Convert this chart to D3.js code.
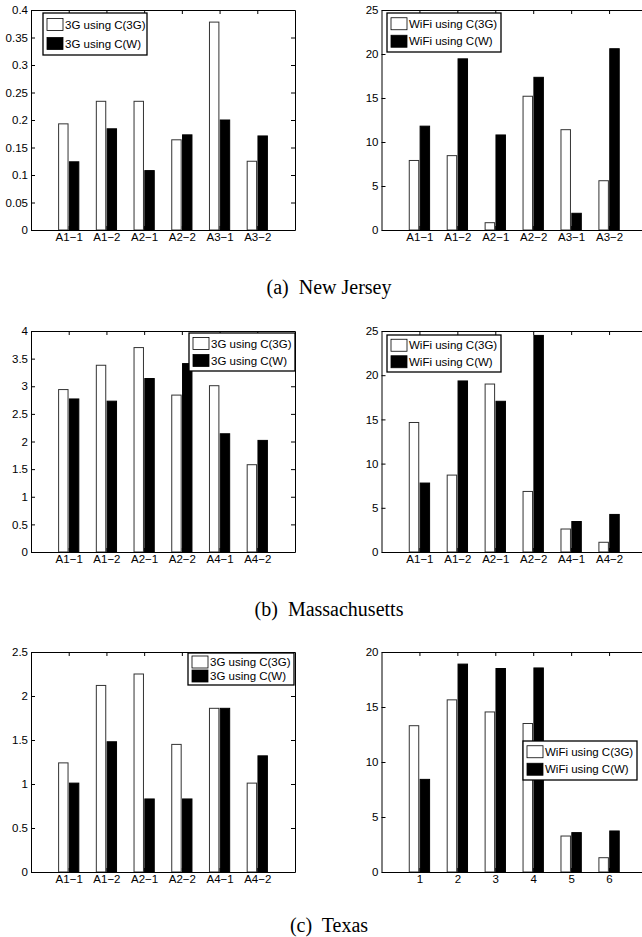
<!DOCTYPE html>
<html>
<head>
<meta charset="utf-8">
<script src="https://cdn.jsdelivr.net/npm/d3@7"></script>
<style>
body { margin: 0; background: #fff; }
svg { display: block; }
.axis text { font-family: "Liberation Sans", Arial, sans-serif; font-size: 11.5px; fill: #000; }
.axis path, .axis line { stroke: #000; stroke-width: 1; }
.legend text { font-family: "Liberation Sans", Arial, sans-serif; font-size: 11.5px; fill: #000; }
.caption { font-family: "Liberation Serif", "Times New Roman", serif; font-size: 20px; white-space: pre; }
</style>
</head>
<body>
<div id="viewportContainer"></div>
<script>

/* --- データセット --- */
const catsNJ = ["A1−1", "A1−2", "A2−1", "A2−2", "A3−1", "A3−2"];
const catsMA = ["A1−1", "A1−2", "A2−1", "A2−2", "A4−1", "A4−2"];
const catsTX3g = ["A1−1", "A1−2", "A2−1", "A2−2", "A4−1", "A4−2"];
const catsTXWifi = ["1", "2", "3", "4", "5", "6"];

// (a) New Jersey
const nj3gUsing3g = [0.193, 0.234, 0.234, 0.164, 0.378, 0.125];
const nj3gUsingW  = [0.124, 0.184, 0.108, 0.173, 0.200, 0.171];
const njWifiUsing3g = [7.9, 8.45, 0.83, 15.2, 11.4, 5.6];
const njWifiUsingW  = [11.8, 19.45, 10.8, 17.35, 1.9, 20.6];

// (b) Massachusetts
const ma3gUsing3g = [2.94, 3.38, 3.70, 2.84, 3.01, 1.58];
const ma3gUsingW  = [2.77, 2.73, 3.14, 3.41, 2.14, 2.02];
const maWifiUsing3g = [14.65, 8.7, 19.0, 6.85, 2.6, 1.1];
const maWifiUsingW  = [7.8, 19.35, 17.05, 24.5, 3.45, 4.25];

// (c) Texas
const tx3gUsing3g = [1.24, 2.12, 2.25, 1.45, 1.86, 1.01];
const tx3gUsingW  = [1.01, 1.48, 0.83, 0.83, 1.86, 1.32];
const txWifiUsing3g = [13.3, 15.65, 14.55, 13.5, 3.27, 1.3];
const txWifiUsingW  = [8.42, 18.9, 18.5, 18.55, 3.58, 3.73];

// 目盛
const ticksNJ3g = [0, 0.05, 0.1, 0.15, 0.2, 0.25, 0.3, 0.35, 0.4];
const ticksMA3g = [0, 0.5, 1, 1.5, 2, 2.5, 3, 3.5, 4];
const ticksTX3g = [0, 0.5, 1, 1.5, 2, 2.5];
const ticksWifi25 = [0, 5, 10, 15, 20, 25];
const ticksWifi20 = [0, 5, 10, 15, 20];

// 凡例・キャプション
const legend3g = ["3G using C(3G)", "3G using C(W)"];
const legendWifi = ["WiFi using C(3G)", "WiFi using C(W)"];
const captions = ["(a)  New Jersey", "(b)  Massachusetts", "(c)  Texas"];



/* --- レイアウト --- */
const viewport = {width: 642, height: 937};
const cols = [{left: 31, right: 295}, {left: 381.5, right: 647}];
const rows = [{top: 10, bottom: 230}, {top: 331, bottom: 552}, {top: 652, bottom: 872}];
const captionY = [294, 616, 932];

const panels = [
    {col: 0, row: 0, cats: catsNJ, a: nj3gUsing3g, b: nj3gUsingW, ticks: ticksNJ3g, legend: legend3g, lg: {x: 43, y: 13, w: 104, h: 42}},
    {col: 1, row: 0, cats: catsNJ, a: njWifiUsing3g, b: njWifiUsingW, ticks: ticksWifi25, legend: legendWifi, lg: {x: 387, y: 13, w: 114, h: 39}},
    {col: 0, row: 1, cats: catsMA, a: ma3gUsing3g, b: ma3gUsingW, ticks: ticksMA3g, legend: legend3g, lg: {x: 189, y: 333, w: 106, h: 38}},
    {col: 1, row: 1, cats: catsMA, a: maWifiUsing3g, b: maWifiUsingW, ticks: ticksWifi25, legend: legendWifi, lg: {x: 387, y: 335, w: 114, h: 37}},
    {col: 0, row: 2, cats: catsTX3g, a: tx3gUsing3g, b: tx3gUsingW, ticks: ticksTX3g, legend: legend3g, lg: {x: 188, y: 653, w: 106, h: 32}},
    {col: 1, row: 2, cats: catsTXWifi, a: txWifiUsing3g, b: txWifiUsingW, ticks: ticksWifi20, legend: legendWifi, lg: {x: 523, y: 741, w: 114, h: 39}}
];

const svg = d3.select("#viewportContainer")
    .append("svg")
    .attr("width", viewport.width)
    .attr("height", viewport.height);

svg.append("rect")
    .attr("width", viewport.width)
    .attr("height", viewport.height)
    .attr("fill", "#fff");

const fmt = function(d) { return String(+d.toFixed(2)); };



/* --- パネル描画 --- */
let drawPanel = function(p) {

    const c = cols[p.col], r = rows[p.row];
    const g = svg.append("g");

    const xScale = d3.scaleLinear().domain([0, 7]).range([c.left, c.right]);
    const yScale = d3.scaleLinear().domain([0, d3.max(p.ticks)]).range([r.bottom, r.top]);

    const idx = d3.range(1, p.cats.length + 1);

    /*--- 棒 ---*/
    const series = [
        {values: p.a, off: [-0.268, -0.018], fill: "#fff", stroke: "#333"},
        {values: p.b, off: [0.018, 0.268], fill: "#000", stroke: "#000"}
    ];

    series.forEach(function(s) {
        g.append("g").selectAll("rect")
            .data(idx)
            .enter()
            .append("rect")
            .attr("x", function(i) { return xScale(i + s.off[0]); })
            .attr("width", function(i) { return xScale(i + s.off[1]) - xScale(i + s.off[0]); })
            .attr("y", function(i) { return yScale(s.values[i - 1]); })
            .attr("height", function(i) { return yScale(0) - yScale(s.values[i - 1]); })
            .attr("fill", s.fill)
            .attr("stroke", s.stroke)
            .attr("stroke-width", 1);
    });

    /*--- 軸（内向きの目盛） ---*/
    g.append("g").attr("class", "axis")
        .attr("transform", "translate(" + c.left + ",0)")
        .call(d3.axisLeft(yScale).tickValues(p.ticks).tickFormat(fmt).tickSizeInner(-4).tickSizeOuter(0).tickPadding(3));

    g.append("g").attr("class", "axis")
        .attr("transform", "translate(" + c.right + ",0)")
        .call(d3.axisRight(yScale).tickValues(p.ticks).tickFormat("").tickSizeInner(-4).tickSizeOuter(0));

    g.append("g").attr("class", "axis")
        .attr("transform", "translate(0," + r.bottom + ")")
        .call(d3.axisBottom(xScale).tickValues(idx).tickFormat(function(i) { return p.cats[i - 1]; }).tickSizeInner(-4).tickSizeOuter(0).tickPadding(3));

    g.append("g").attr("class", "axis")
        .attr("transform", "translate(0," + r.top + ")")
        .call(d3.axisTop(xScale).tickValues(idx).tickFormat("").tickSizeInner(-4).tickSizeOuter(0));

    g.selectAll(".axis .domain").attr("fill", "none");
    g.selectAll(".axis text").attr("font-family", null).attr("font-size", null);

    /*--- 凡例 ---*/
    const lg = g.append("g").attr("class", "legend");
    lg.append("rect")
        .attr("x", p.lg.x).attr("y", p.lg.y)
        .attr("width", p.lg.w).attr("height", p.lg.h)
        .attr("fill", "#fff").attr("stroke", "#000").attr("stroke-width", 1.3);

    const rowH = (p.lg.h - 4) / 2;
    p.legend.forEach(function(name, k) {
        const cy = p.lg.y + 2 + rowH * (k + 0.5);
        lg.append("rect")
            .attr("x", p.lg.x + 4).attr("y", cy - 6)
            .attr("width", 16).attr("height", 12)
            .attr("fill", k === 0 ? "#fff" : "#000")
            .attr("stroke", "#000").attr("stroke-width", 0.8);
        lg.append("text")
            .attr("x", p.lg.x + 22).attr("y", cy + 4)
            .text(name);
    });
};

panels.forEach(drawPanel);



/* --- キャプション --- */
svg.selectAll(".caption")
    .data(captions)
    .enter()
    .append("text")
    .attr("class", "caption")
    .attr("x", 329)
    .attr("y", function(d, i) { return captionY[i]; })
    .attr("text-anchor", "middle")
    .text(function(d) { return d; });

</script>
</body>
</html>
